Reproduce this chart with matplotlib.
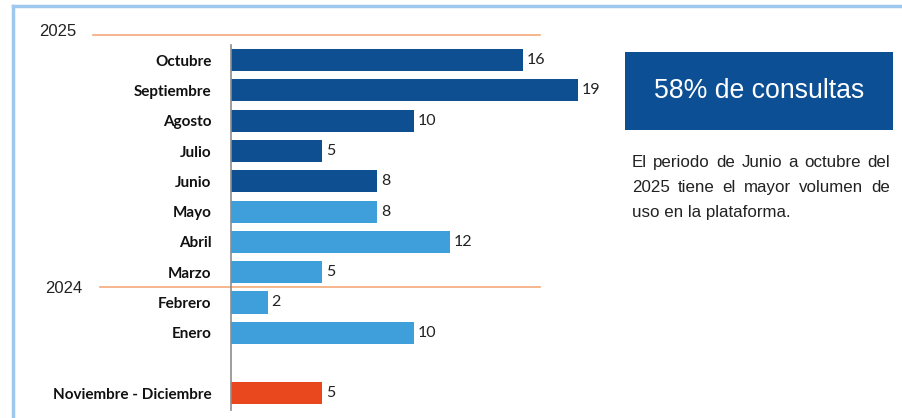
import matplotlib
matplotlib.use("Agg")
import matplotlib.pyplot as plt
from matplotlib.lines import Line2D
from matplotlib.patches import Rectangle
import matplotlib.transforms as mtrans

# ---- data ----
months = ["Octubre", "Septiembre", "Agosto", "Julio", "Junio", "Mayo",
          "Abril", "Marzo", "Febrero", "Enero", "Noviembre - Diciembre"]
values = [16, 19, 10, 5, 8, 8, 12, 5, 2, 10, 5]
slots = [0, 1, 2, 3, 4, 5, 6, 7, 8, 9, 11]
groups = ["dark"] * 5 + ["light"] * 5 + ["orange"]
year_labels = ["2025", "2024"]
year_line_pos = [-0.83, 7.5]
headline = "58% de consultas"
para_lines = ["El periodo de Junio a octubre del",
              "2025 tiene el mayor volumen de",
              "uso en la plataforma."]

colors = {"dark": "#0D4F91", "light": "#3E9FDA", "orange": "#E9481E"}

W, H = 903, 418
fig = plt.figure(figsize=(W / 100, H / 100), dpi=100)
fig.patch.set_facecolor("white")

def fx(px):
    return px / W

def fy(py):
    return 1 - py / H

ax_left, ax_right = 231, 596
ax_top, ax_bot = 45, 410
ax = fig.add_axes([fx(ax_left), fy(ax_bot), fx(ax_right - ax_left), (ax_bot - ax_top) / H])
ax.set_xlim(0, 20)
ax.set_ylim(11.55, -0.5)
ax.set_facecolor("none")

ax.barh(slots, values, height=0.73, color=[colors[g] for g in groups],
        edgecolor="none", zorder=2)
for s, v in zip(slots, values):
    ax.annotate(str(v), (v, s), xytext=(3, 0), textcoords="offset points",
                ha="left", va="center", fontsize=11.5, family=["Lato", "DejaVu Sans"],
                color="#222222")

ax.set_yticks(slots)
ax.set_yticklabels(months, fontsize=11, fontweight="bold", family=["Lato", "DejaVu Sans"],
                   color="#111111")
ax.tick_params(axis="y", length=0, pad=14)
ax.set_xticks([])
for sp in ["top", "right", "bottom"]:
    ax.spines[sp].set_visible(False)
ax.spines["left"].set_color("#8C8C8C")
ax.spines["left"].set_linewidth(1.2)

# year separators
blend = mtrans.blended_transform_factory(fig.transFigure, ax.transData)
line_x = [(93, 540), (100, 540)]
text_x = [39, 45]
text_off = [-0.1, 0.05]
for lab, yp, (x0, x1), tx, to in zip(year_labels, year_line_pos, line_x, text_x, text_off):
    ax.add_line(Line2D([fx(x0), fx(x1)], [yp, yp], transform=blend,
                       color="#F3A977", lw=1.2, clip_on=False, zorder=1))
    ax.text(fx(tx), yp + to, lab, transform=blend, ha="left", va="center",
            fontsize=12, family="Liberation Sans", color="#222222", clip_on=False)

# border
fig.add_artist(Line2D([fx(13), 1], [fy(6), fy(6)], color="#9EC8EE", lw=2.5))
fig.add_artist(Line2D([fx(13), fx(13)], [fy(6), 0], color="#9EC8EE", lw=2.5))

# headline box
bx0, bx1, by0, by1 = 625, 893, 52, 130
fig.add_artist(Rectangle((fx(bx0), fy(by1)), fx(bx1 - bx0), (by1 - by0) / H,
                         transform=fig.transFigure, facecolor="#0C4F94",
                         edgecolor="none"))
fig.text(fx((bx0 + bx1) / 2), fy((by0 + by1) / 2), headline, ha="center", va="center",
         fontsize=19.2, color="white", family="Liberation Sans")

# justified paragraph
px0, px1 = 632, 890
baseline_y = [167, 192, 217]
fig.canvas.draw()
renderer = fig.canvas.get_renderer()
for i, (ln, yy) in enumerate(zip(para_lines, baseline_y)):
    words = ln.split(" ")
    last = i == len(para_lines) - 1
    if last:
        fig.text(fx(px0), fy(yy), ln, ha="left", va="baseline", fontsize=12.2,
                 family="Liberation Sans", color="#222222")
        continue
    arts = [fig.text(0, fy(yy), w, ha="left", va="baseline", fontsize=12.2,
                     family="Liberation Sans", color="#222222") for w in words]
    widths = [a.get_window_extent(renderer).width for a in arts]
    gap = (px1 - px0 - sum(widths)) / (len(words) - 1)
    x = px0
    for a, w in zip(arts, widths):
        a.set_x(fx(x))
        x += w + gap

fig.savefig("out.png", dpi=100, facecolor="white")
